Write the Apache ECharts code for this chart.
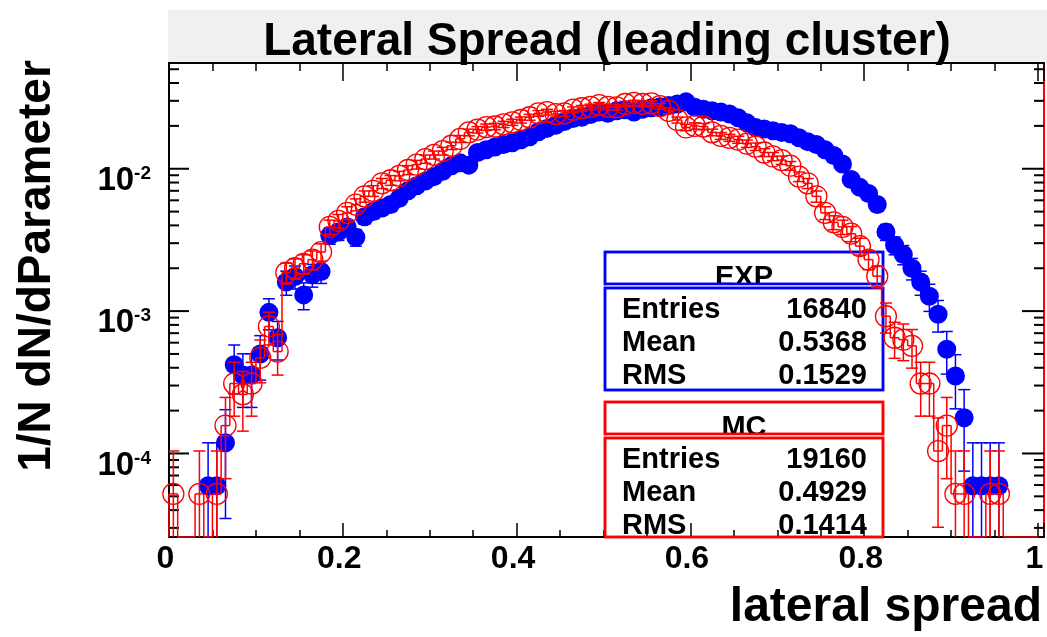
<!DOCTYPE html>
<html><head><meta charset="utf-8">
<script src="https://cdn.jsdelivr.net/npm/echarts@6/dist/echarts.min.js"></script>
<style>html,body{margin:0;padding:0;background:#fff}#c{width:1047px;height:637px}</style>
</head><body><div id="c"></div>
<script>
// ---- data ----
const binCenters = [
 0.005,0.015,0.025,0.035,0.045,0.055,0.065,0.075,0.085,0.095,
 0.105,0.115,0.125,0.135,0.145,0.155,0.165,0.175,0.185,0.195,
 0.205,0.215,0.225,0.235,0.245,0.255,0.265,0.275,0.285,0.295,
 0.305,0.315,0.325,0.335,0.345,0.355,0.365,0.375,0.385,0.395,
 0.405,0.415,0.425,0.435,0.445,0.455,0.465,0.475,0.485,0.495,
 0.505,0.515,0.525,0.535,0.545,0.555,0.565,0.575,0.585,0.595,
 0.605,0.615,0.625,0.635,0.645,0.655,0.665,0.675,0.685,0.695,
 0.705,0.715,0.725,0.735,0.745,0.755,0.765,0.775,0.785,0.795,
 0.805,0.815,0.825,0.835,0.845,0.855,0.865,0.875,0.885,0.895,
 0.905,0.915,0.925,0.935,0.945,0.955,0.965,0.975,0.985,0.995
];
const expValues = [
 null,null,null,null,5.94e-5,5.94e-5,1.19e-4,4.2e-4,3.56e-4,3.56e-4,
 5.0e-4,9.8e-4,6.5e-4,1.6e-3,1.75e-3,1.3e-3,1.8e-3,1.9e-3,3.4e-3,3.6e-3,
 3.9e-3,3.3e-3,4.6e-3,5.0e-3,5.3e-3,5.6e-3,6.2e-3,7.0e-3,7.6e-3,8.2e-3,
 8.8e-3,9.6e-3,1.05e-2,1.1e-2,1.06e-2,1.3e-2,1.36e-2,1.42e-2,1.48e-2,1.52e-2,
 1.6e-2,1.68e-2,1.82e-2,1.92e-2,2.02e-2,2.15e-2,2.25e-2,2.3e-2,2.4e-2,2.5e-2,
 2.45e-2,2.55e-2,2.6e-2,2.5e-2,2.62e-2,2.68e-2,2.72e-2,2.78e-2,2.85e-2,2.95e-2,
 2.7e-2,2.62e-2,2.55e-2,2.5e-2,2.42e-2,2.28e-2,2.1e-2,1.95e-2,1.9e-2,1.85e-2,
 1.8e-2,1.76e-2,1.65e-2,1.55e-2,1.48e-2,1.36e-2,1.24e-2,1.08e-2,8.4e-3,7.4e-3,
 6.7e-3,5.6e-3,3.6e-3,2.9e-3,2.5e-3,2.0e-3,1.6e-3,1.27e-3,9.5e-4,5.4e-4,
 3.5e-4,1.78e-4,5.94e-5,5.94e-5,5.94e-5,5.94e-5,null,null,null,null
];
const mcValues = [
 5.2e-5,null,null,5.2e-5,null,5.2e-5,1.57e-4,3.1e-4,2.6e-4,3.1e-4,
 4.7e-4,7.8e-4,5.2e-4,1.86e-3,2.0e-3,2.15e-3,2.3e-3,2.6e-3,3.9e-3,4.3e-3,
 4.9e-3,5.6e-3,6.4e-3,7.0e-3,7.9e-3,8.3e-3,8.9e-3,9.8e-3,1.07e-2,1.17e-2,
 1.25e-2,1.33e-2,1.45e-2,1.62e-2,1.8e-2,1.88e-2,1.96e-2,1.98e-2,2.05e-2,2.12e-2,
 2.2e-2,2.3e-2,2.45e-2,2.5e-2,2.42e-2,2.45e-2,2.6e-2,2.66e-2,2.72e-2,2.8e-2,
 2.72e-2,2.7e-2,2.85e-2,2.9e-2,2.85e-2,2.88e-2,2.75e-2,2.55e-2,2.2e-2,1.95e-2,
 2.0e-2,1.98e-2,1.8e-2,1.7e-2,1.65e-2,1.6e-2,1.5e-2,1.43e-2,1.3e-2,1.22e-2,
 1.15e-2,1.05e-2,8.8e-3,7.9e-3,6.4e-3,4.9e-3,4.2e-3,3.9e-3,3.5e-3,2.86e-3,
 2.3e-3,1.76e-3,9.2e-4,6.5e-4,6.3e-4,5.7e-4,3.1e-4,3.1e-4,1.04e-4,1.57e-4,
 5.2e-5,5.2e-5,null,null,5.2e-5,5.2e-5,null,null,null,null
];
const expEntries = 16840;
const mcEntries = 19160;
const expStats = [['Entries','16840'],['Mean','0.5368'],['RMS','0.1529']];
const mcStats = [['Entries','19160'],['Mean','0.4929'],['RMS','0.1414']];
const xTickLabels = ['0','0.2','0.4','0.6','0.8','1'];
const yDecades = [-5,-4,-3,-2,-1];
const yMinorMultipliers = [2,3,4,5,6,7,8,9];

// ---- config ----
const X_MIN = 0, X_MAX = 1.0069, Y_MIN = 2.59e-5, Y_MAX = 0.0553, BIN_HALF = 0.005;
const BLUE = '#0000ff', RED = '#ff0000';
const FONT = "'Liberation Sans', Arial, Helvetica, sans-serif";

const yTicks = [];
yDecades.forEach(d => {
  const base = Math.pow(10, d);
  if (base >= Y_MIN && base <= Y_MAX) yTicks.push([X_MIN, base, 1]);
  yMinorMultipliers.forEach(m => { const v = m * base; if (v >= Y_MIN && v <= Y_MAX) yTicks.push([X_MIN, v, 0]); });
});

const expPoints = binCenters.map((x, i) => [x, expValues[i]]).filter(p => p[1] != null);
const mcPoints = binCenters.map((x, i) => [x, mcValues[i]]).filter(p => p[1] != null);
const mcStep = binCenters.map((x, i) => [x, mcValues[i] == null ? Y_MIN : mcValues[i],
  i > 0 && mcValues[i - 1] != null ? mcValues[i - 1] : Y_MIN]);

function errorBarRenderer(entries, color) {
  return function (params, api) {
    const x = api.value(0), v = api.value(1);
    const err = Math.sqrt(v / entries);
    const hi = v + err;
    const lowClipped = (v - err) <= Y_MIN;
    const lo = lowClipped ? Y_MIN : v - err;
    const pHi = api.coord([x, hi]), pLo = api.coord([x, lo]);
    const st = { stroke: color, lineWidth: 1.5 };
    const ch = [
      { type: 'line', shape: { x1: pHi[0], y1: pHi[1], x2: pLo[0], y2: pLo[1] }, style: st },
      { type: 'line', shape: { x1: pHi[0] - 6, y1: pHi[1], x2: pHi[0] + 6, y2: pHi[1] }, style: st }
    ];
    if (!lowClipped) ch.push({ type: 'line', shape: { x1: pLo[0] - 6, y1: pLo[1], x2: pLo[0] + 6, y2: pLo[1] }, style: st });
    return { type: 'group', children: ch };
  };
}

function xLabel(v) {
  const k = Math.round(v / 0.2);
  if (Math.abs(v - k * 0.2) > 1e-6) return '';
  return xTickLabels[k] !== undefined ? xTickLabels[k] : '';
}
function yLabel(v) {
  const e = Math.log10(v), r = Math.round(e);
  if (Math.abs(e - r) > 1e-6) return '';
  return '{b|10}{s|' + r + '}';
}

function statBox(x, y, w, headH, bodyH, color, title, rows) {
  const els = [];
  const bodyY = y + headH + 4;
  els.push({ type: 'rect', shape: { x: x, y: y, width: w, height: headH }, style: { fill: '#fff', stroke: color, lineWidth: 2.5 }, z: -5, silent: true });
  els.push({ type: 'text', x: x + w / 2, y: y + headH + 4 - 10, style: { text: title, font: 'bold 29px ' + FONT, fill: '#000', align: 'center', verticalAlign: 'middle' }, z: -4, silent: true });
  els.push({ type: 'rect', shape: { x: x + 2, y: y + headH - 1, width: w - 4, height: bodyH + 5 }, style: { fill: '#fff' }, z: -3, silent: true });
  els.push({ type: 'rect', shape: { x: x, y: bodyY, width: w, height: bodyH }, style: { fill: '#fff', stroke: color, lineWidth: 2.5 }, z: -3, silent: true });
  rows.forEach((r, i) => {
    const yy = bodyY + 22 + i * 33;
    els.push({ type: 'text', x: x + 17, y: yy, style: { text: r[0], font: 'bold 29px ' + FONT, fill: '#000', align: 'left', verticalAlign: 'middle' }, z: -2, silent: true });
    els.push({ type: 'text', x: x + w - 16, y: yy, style: { text: r[1], font: 'bold 29px ' + FONT, fill: '#000', align: 'right', verticalAlign: 'middle' }, z: -2, silent: true });
  });
  els.push({ type: 'rect', shape: { x: x, y: y, width: w, height: headH }, style: { fill: 'none', stroke: color, lineWidth: 2.5 }, z: 1, silent: true });
  els.push({ type: 'rect', shape: { x: x, y: bodyY, width: w, height: bodyH }, style: { fill: 'none', stroke: color, lineWidth: 2.5 }, z: 1, silent: true });
  return els;
}

const xAxisCommon = {
  type: 'value', min: X_MIN, max: X_MAX, interval: 0.2,
  axisLine: { show: true, onZero: false, lineStyle: { color: '#000', width: 2 } },
  splitLine: { show: false }, minorSplitLine: { show: false }
};

const option = {
  animation: false,
  backgroundColor: '#fff',
  grid: { left: 169, top: 63, right: 2, bottom: 100, containLabel: false },
  xAxis: [
    Object.assign({}, xAxisCommon, {
      position: 'bottom',
      axisTick: { show: true, inside: true, length: 14, lineStyle: { color: '#000', width: 1.5 } },
      minorTick: { show: true, splitNumber: 4, length: 7, lineStyle: { color: '#000', width: 1.5 } },
      axisLabel: { formatter: xLabel, fontSize: 32, fontWeight: 'bold', fontFamily: FONT, color: '#000', margin: 6, padding: [0, 7, 0, 0] }
    }),
    Object.assign({}, xAxisCommon, {
      position: 'top',
      axisTick: { show: true, inside: true, length: 18, lineStyle: { color: '#000', width: 1.5 } },
      minorTick: { show: true, splitNumber: 4, length: 8, lineStyle: { color: '#000', width: 1.5 } },
      axisLabel: { show: false }
    })
  ],
  yAxis: [
    {
      type: 'log', logBase: 10, min: Y_MIN, max: Y_MAX, position: 'left',
      axisLine: { show: true, onZero: false, lineStyle: { color: '#000', width: 2 } },
      axisTick: { show: false }, minorTick: { show: false },
      splitLine: { show: false }, minorSplitLine: { show: false },
      axisLabel: {
        formatter: yLabel, margin: 18, padding: [24, 0, 0, 0], color: '#000',
        rich: {
          b: { fontSize: 33, fontWeight: 'bold', fontFamily: FONT, color: '#000' },
          s: { fontSize: 19, fontWeight: 'bold', fontFamily: FONT, color: '#000', verticalAlign: 'top' }
        }
      }
    },
    {
      type: 'log', logBase: 10, min: Y_MIN, max: Y_MAX, position: 'right',
      axisLine: { show: true, onZero: false, lineStyle: { color: RED, width: 2 } },
      axisTick: { show: false }, minorTick: { show: false },
      splitLine: { show: false }, axisLabel: { show: false }
    }
  ],
  series: [
    { // log axis ticks (left & right)
      type: 'custom', coordinateSystem: 'cartesian2d', xAxisIndex: 0, yAxisIndex: 0,
      silent: true, clip: false, z: 1, data: yTicks,
      renderItem: function (params, api) {
        const v = api.value(1), major = api.value(2);
        const pL = api.coord([X_MIN, v]), pR = api.coord([X_MAX, v]);
        const st = { stroke: '#000', lineWidth: 2 };
        return { type: 'group', children: [
          { type: 'line', shape: { x1: pL[0], y1: pL[1], x2: pL[0] + (major ? 20 : 10), y2: pL[1] }, style: st },
          { type: 'line', shape: { x1: pR[0], y1: pR[1], x2: pR[0] - (major ? 22 : 10), y2: pR[1] }, style: st }
        ] };
      }
    },
    {
      name: 'EXP errors', type: 'custom', coordinateSystem: 'cartesian2d', silent: true, clip: true, z: 3,
      data: expPoints, renderItem: errorBarRenderer(expEntries, BLUE)
    },
    {
      name: 'EXP', type: 'scatter', data: expPoints, symbol: 'circle', symbolSize: 19, z: 4, silent: true,
      itemStyle: { color: BLUE, opacity: 1 }
    },
    {
      name: 'MC hist', type: 'custom', coordinateSystem: 'cartesian2d', silent: true, clip: false, z: 5,
      data: mcStep,
      renderItem: function (params, api) {
        const x = api.value(0), v = api.value(1), pv = api.value(2);
        const a = api.coord([x - BIN_HALF, v]), b = api.coord([x + BIN_HALF, v]), c = api.coord([x - BIN_HALF, pv]);
        const st = { stroke: RED, lineWidth: 1.5 };
        return { type: 'group', children: [
          { type: 'line', shape: { x1: a[0], y1: a[1], x2: b[0], y2: b[1] }, style: st },
          { type: 'line', shape: { x1: c[0], y1: c[1], x2: a[0], y2: a[1] }, style: st }
        ] };
      }
    },
    {
      name: 'MC errors', type: 'custom', coordinateSystem: 'cartesian2d', silent: true, clip: true, z: 5,
      data: mcPoints, renderItem: errorBarRenderer(mcEntries, RED)
    },
    {
      name: 'MC', type: 'scatter', data: mcPoints, symbol: 'circle', symbolSize: 21, z: 6, silent: true,
      itemStyle: { color: 'rgba(0,0,0,0)', borderColor: RED, borderWidth: 1.3, opacity: 1 }
    }
  ],
  graphic: { elements: [
    { type: 'rect', shape: { x: 168, y: 10, width: 879, height: 53 }, style: { fill: '#f0f0f0' }, z: -10, silent: true },
    { type: 'text', x: 607, y: 42, style: { text: 'Lateral Spread (leading cluster)', font: 'bold 46px ' + FONT, fill: '#000', align: 'center', verticalAlign: 'middle' }, z: -9, silent: true },
    { type: 'text', x: 37, y: 266, rotation: Math.PI / 2, style: { text: '1/N dN/dParameter', font: 'bold 46px ' + FONT, fill: '#000', align: 'center', verticalAlign: 'middle' }, z: -9, silent: true },
    { type: 'text', x: 1042, y: 608, style: { text: 'lateral spread', font: 'bold 48px ' + FONT, fill: '#000', align: 'right', verticalAlign: 'middle' }, z: -9, silent: true }
  ].concat(
    statBox(605, 252, 278, 32, 102, BLUE, 'EXP', expStats),
    statBox(605, 402, 278, 32, 99, RED, 'MC', mcStats)
  ) }
};

const chart = echarts.init(document.getElementById('c'), null, { renderer: 'canvas', width: 1047, height: 637 });
chart.setOption(option);
</script>
</body></html>
